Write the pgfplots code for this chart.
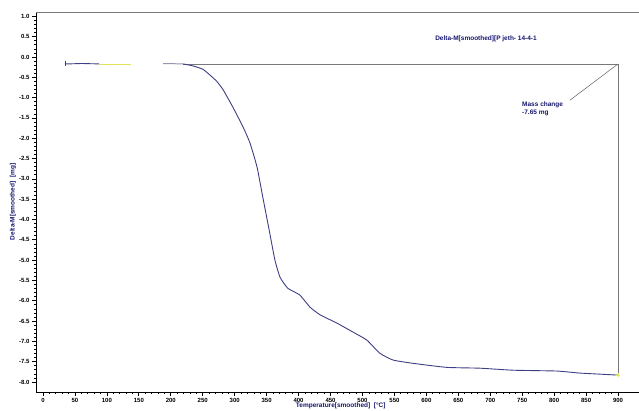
\documentclass[border=0pt]{standalone}
\usepackage{pgfplots}
\pgfplotsset{compat=1.18}
\usepackage{fontspec}
\setmainfont{Liberation Sans}
\definecolor{curve}{RGB}{62,62,132}
\definecolor{navy}{RGB}{22,22,110}
\definecolor{refgray}{RGB}{120,120,120}
\definecolor{ylw}{RGB}{225,225,90}
\definecolor{lgray}{RGB}{150,150,175}
\begin{document}
\begin{tikzpicture}[x=1pt,y=1pt]
\useasboundingbox (0,0) rectangle (639,411);
\begin{axis}[
  at={(36pt,19pt)}, anchor=south west,
  scale only axis, width=603pt, height=380pt,
  xmin=-10.96, xmax=932.8,
  ymin=-8.246, ymax=1.108,
  axis lines=left,
  axis line style={black, line width=0.8pt, -},
  clip=false,
  xtick={0,50,...,900}, minor x tick num=4,
  ytick={-8,-7.5,...,1}, minor y tick num=4,
  tick align=outside,
  major tick length=4pt, minor tick length=2pt,
  every tick/.style={black, line width=0.7pt},
  tick label style={font=\fontsize{6}{6.5}\selectfont\bfseries, text=black},
  xticklabel style={yshift=1pt},
  yticklabel style={xshift=1pt},
  /pgf/number format/assume math mode=true,
  yticklabel={\pgfmathprintnumber[fixed,fixed zerofill,precision=1]{\tick}},
  xticklabel={\pgfmathprintnumber[fixed,precision=0,1000 sep={}]{\tick}},
]
% top frame line
\draw[refgray, line width=0.8pt] (rel axis cs:0,1) -- (rel axis cs:1,1);
% reference lines
\addplot[refgray, line width=0.8pt] coordinates {(219,-0.17) (900,-0.17) (900,-7.83)};
\addplot[refgray!80!black, line width=0.5pt] coordinates {(900,-0.17) (825,-1.06)};
% curve segments
\addplot[curve, line width=0.9pt, mark=|, mark size=2.5pt, mark repeat=100, mark options={solid, line width=0.5pt}] coordinates {(34.4,-0.17) (40,-0.17) (60,-0.16) (88,-0.17)};
\addplot[ylw, line width=0.8pt] coordinates {(88,-0.17) (137,-0.17)};
\addplot[lgray, line width=1pt] coordinates {(188,-0.16) (219,-0.17)};
\addplot[curve, line width=0.9pt, smooth, tension=0.3] coordinates {
(219,-0.17) (235,-0.22) (250,-0.30) (261,-0.44) (272,-0.60) (282,-0.81)
(297,-1.23) (313,-1.72) (324,-2.12) (335,-2.71) (344,-3.45) (354,-4.26)
(363,-5.00) (371,-5.42) (383,-5.69) (402,-5.86) (418,-6.16) (434,-6.35)
(460,-6.55) (485,-6.77) (507,-6.97) (527,-7.29) (548,-7.46) (579,-7.54)
(632,-7.64) (684,-7.66) (736,-7.71) (804,-7.73) (840,-7.78) (900,-7.83)};
\addplot[ylw, only marks, mark=+, mark size=2pt] coordinates {(900,-7.83)};
% texts
\node[anchor=west, text=navy, font=\fontsize{6.5}{7}\selectfont\bfseries, inner sep=0pt] at (axis cs:613.6,0.443) {Delta-M[smoothed][P jeth- 14-4-1};
\node[anchor=north west, align=left, text=navy, font=\fontsize{6.5}{8}\selectfont\bfseries, inner sep=0pt] at (axis cs:749.7,-1.09) {Mass change\\-7.65 mg};
\node[rotate=90, text=navy, font=\fontsize{6.5}{7}\selectfont\bfseries, inner sep=0pt] at ([xshift=-23pt]axis description cs:0,0.5) {Delta-M[smoothed]\ \ [mg]};
\node[text=navy, font=\fontsize{6.5}{7}\selectfont\bfseries, inner sep=0pt] at ([yshift=-14pt]axis cs:466,-8.246) {Temperature[smoothed]\ \ [°C]};
\end{axis}
\end{tikzpicture}
\end{document}
